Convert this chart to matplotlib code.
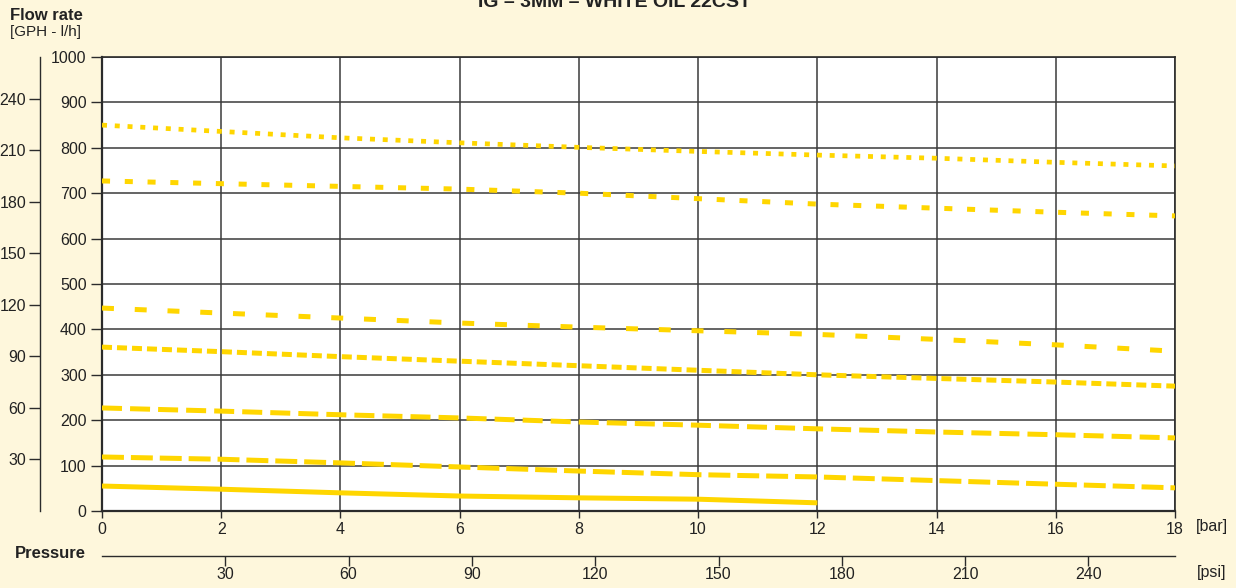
import matplotlib
matplotlib.use("Agg")
import matplotlib.pyplot as plt
import numpy as np

plt.rcParams['font.family'] = ['Liberation Sans', 'DejaVu Sans']
plt.rcParams['lines.scale_dashes'] = False

# Data (pressure in bar, flow in l/h)
bar_pts = [0, 2, 4, 6, 8, 10, 12, 14, 16, 18]
flow_1 = [55, 48, 40, 33, 29, 26, 18]            # solid, to 12 bar
flow_2 = [119, 114, 106, 97, 88, 80, 75, 67, 59, 51]
flow_3 = [227, 220, 212, 205, 196, 189, 181, 174, 168, 161]
flow_4 = [361, 351, 340, 330, 320, 310, 300, 292, 284, 275]
flow_5 = [447, 436, 425, 414, 405, 397, 389, 378, 366, 352]
flow_6 = [727, 721, 715, 709, 700, 688, 676, 667, 658, 650]
flow_7 = [850, 836, 822, 811, 801, 792, 784, 777, 768, 760]

series = [flow_1, flow_2, flow_3, flow_4, flow_5, flow_6, flow_7]
dash_styles = [None, (0, (15.8, 5.0)), (0, (14.4, 5.8)), (0, (7.2, 3.6)),
               (0, (8.6, 15.0)), (0, (5.8, 10.6)), (0, (3.6, 5.6))]
widths = [3.6, 3.6, 3.6, 3.6, 3.6, 3.6, 3.4]

x_ticks = [0, 2, 4, 6, 8, 10, 12, 14, 16, 18]
y_ticks = [0, 100, 200, 300, 400, 500, 600, 700, 800, 900, 1000]
gph_ticks = [30, 60, 90, 120, 150, 180, 210, 240]
psi_ticks = [30, 60, 90, 120, 150, 180, 210, 240]

BG = '#FEF7DC'
GOLD = '#FFD600'
DARK = '#2b2b2b'
TXT = '#222222'
FS = 11.5

fig = plt.figure(figsize=(12.36, 5.88), dpi=100, facecolor=BG)
ax = fig.add_axes([102/1236, 1-511/588, (1175-102)/1236, (511-57)/588])
ax.set_facecolor('white')

for i, ys in enumerate(series):
    xs = bar_pts[:len(ys)]
    ls = '-' if dash_styles[i] is None else dash_styles[i]
    ax.plot(xs, ys, color=GOLD, lw=widths[i], linestyle=ls,
            solid_capstyle='butt', dash_capstyle='butt', zorder=3)

ax.set_xlim(0, 18)
ax.set_ylim(0, 1000)
ax.set_xticks(x_ticks)
ax.set_yticks(y_ticks)
ax.grid(True, color='#3a3a3a', lw=1.1, zorder=1)
ax.set_axisbelow(True)
for s in ax.spines.values():
    s.set_color(DARK)
    s.set_linewidth(1.2)
ax.spines['left'].set_linewidth(1.6)
ax.spines['bottom'].set_linewidth(1.6)
ax.tick_params(axis='both', colors=DARK, labelsize=FS, labelcolor=TXT)
ax.tick_params(axis='y', length=8, width=1.0, pad=3)
ax.tick_params(axis='x', length=5, width=1.0, pad=3)

# GPH secondary axis (left)
gy = ax.secondary_yaxis(-0.0578, functions=(lambda v: v / 3.78541, lambda v: v * 3.78541))
gy.set_yticks(gph_ticks)
gy.tick_params(length=8, width=1.0, colors=DARK, labelsize=FS, labelcolor=TXT, pad=2)
gy.spines['left'].set_color(DARK)
gy.spines['left'].set_linewidth(1.0)

# psi secondary axis (bottom)
px = ax.secondary_xaxis(-0.099, functions=(lambda v: v * 14.5038, lambda v: v / 14.5038))
px.set_xticks(psi_ticks)
px.tick_params(length=7, width=1.0, colors=DARK, labelsize=FS, labelcolor=TXT, pad=1)
px.spines['bottom'].set_color(DARK)
px.spines['bottom'].set_linewidth(1.0)

# Texts
fig.text(615/1236, 1-7/588, 'IG – 3MM – WHITE OIL 22CST', ha='center', va='baseline',
         fontsize=14, fontweight='bold', color=TXT)
fig.text(10/1236, 1-15/588, 'Flow rate', ha='left', va='center', fontsize=12,
         fontweight='bold', color=TXT)
fig.text(10/1236, 1-32/588, '[GPH - l/h]', ha='left', va='center', fontsize=11, color=TXT)
fig.text(15/1236, 1-553/588, 'Pressure', ha='left', va='center', fontsize=12,
         fontweight='bold', color=TXT)
fig.text(1196/1236, 1-527/588, '[bar]', ha='left', va='center', fontsize=FS, color=TXT)
fig.text(1197/1236, 1-573/588, '[psi]', ha='left', va='center', fontsize=FS, color=TXT)

fig.savefig('out.png', dpi=100, facecolor=BG)
